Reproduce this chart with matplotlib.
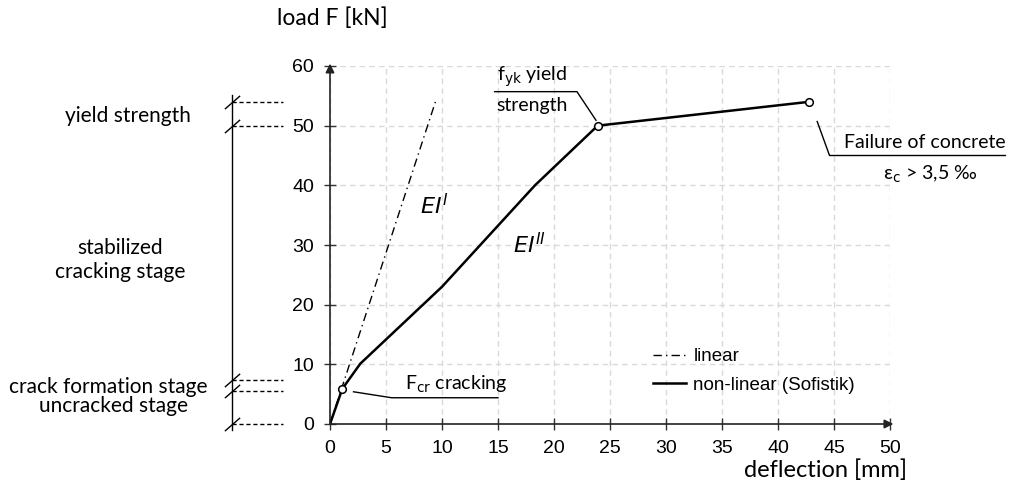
import matplotlib
matplotlib.use("Agg")
import matplotlib.pyplot as plt
from matplotlib.path import Path

# ---------------- data ----------------
nonlin_x = [0, 1.1, 2.7, 10.0, 18.3, 23.9, 42.8]
nonlin_y = [0, 5.9, 10.1, 23.0, 40.0, 50.0, 54.0]
marker_x = [1.1, 23.9, 42.8]
marker_y = [5.9, 50.0, 54.0]
lin_x = [0, 9.5]
lin_y = [0, 54.5]
xticks = [0, 5, 10, 15, 20, 25, 30, 35, 40, 45, 50]
yticks = [0, 10, 20, 30, 40, 50, 60]
stage_levels = [54, 50, 7.3, 5.5, 0]
stage_labels = ["yield strength", "stabilized\ncracking stage",
                "crack formation stage", "uncracked stage"]
stage_label_y = [51.6, 27.5, 6.2, 3.0]

CAL = "Lato"
ARI = "Liberation Sans"

fig = plt.figure(figsize=(10.18, 5.03), dpi=100)
ax = fig.add_axes([330/1018, 1-424/503, 560/1018, (424-66)/503])
ax.set_xlim(0, 50)
ax.set_ylim(0, 60)

# grid
for s in ax.spines.values():
    s.set_visible(False)
ax.set_xticks(xticks)
ax.set_yticks(yticks)
ax.grid(True, color="#d9d9d9", linestyle=(0, (4, 3)), linewidth=1)
ax.tick_params(direction="inout", length=9, width=1, color="#333333",
               labelsize=14, pad=7)
for lab in ax.get_xticklabels() + ax.get_yticklabels():
    lab.set_fontfamily(ARI)

# axes with arrows
ax.annotate("", xy=(50.3, 0), xytext=(0, 0),
            arrowprops=dict(arrowstyle="-|>", color="#222222", lw=1.2,
                            mutation_scale=13, shrinkA=0, shrinkB=0),
            annotation_clip=False)
ax.annotate("", xy=(0, 60.4), xytext=(0, 0),
            arrowprops=dict(arrowstyle="-|>", color="#222222", lw=1.2,
                            mutation_scale=13, shrinkA=0, shrinkB=0),
            annotation_clip=False)

# curves
ax.plot(lin_x, lin_y, color="black", lw=1.0, linestyle=(0, (6, 3, 1, 3)),
        label="linear")
ax.plot(nonlin_x, nonlin_y, color="black", lw=1.8, label="non-linear (Sofistik)",
        solid_joinstyle="miter")
ax.plot(marker_x, marker_y, linestyle="none", marker="o", ms=5.5,
        mfc="white", mec="black", mew=1.1, zorder=5)

leg = ax.legend(loc="upper left", bbox_to_anchor=(0.577, 0.212), frameon=False,
                borderpad=0, borderaxespad=0, handlelength=1.75,
                handletextpad=0.4, labelspacing=0.62,
                prop={"family": ARI, "size": 13.5})

# EI labels
ax.text(8.0, 36.6, r"$EI^{I}$", fontsize=16, fontfamily=CAL, va="center",
        ha="left", math_fontfamily="dejavusans")
ax.text(16.3, 30.0, r"$EI^{II}$", fontsize=16, fontfamily=CAL, va="center",
        ha="left", math_fontfamily="dejavusans")

# annotations
ax.plot([2.1, 5.5, 15.0], [5.4, 4.4, 4.4], color="black", lw=1)
ax.text(6.7, 6.6, r"F$_{\mathrm{cr}}$ cracking", fontsize=14, fontfamily=CAL,
        va="center", ha="left")

ax.plot([14.7, 22.05, 23.75], [55.7, 55.7, 50.9], color="black", lw=1)
ax.text(14.9, 58.2, r"f$_{\mathrm{yk}}$ yield", fontsize=14, fontfamily=CAL,
        va="center", ha="left")
ax.text(14.9, 53.4, "strength", fontsize=14, fontfamily=CAL,
        va="center", ha="left")

ax.plot([43.5, 44.6, 60.3], [50.7, 45.0, 45.0], color="black", lw=1,
        clip_on=False)
ax.text(60.3, 47.1, "Failure of concrete", fontsize=14, fontfamily=CAL,
        va="center", ha="right")
ax.text(53.6, 41.9, "ε$_{\\mathrm{c}}$ > 3,5 ‰", fontsize=14,
        fontfamily=[CAL, "DejaVu Sans"], va="center", ha="center")

# axis titles
ax.text(-0.095, 1.134, "load F [kN]", transform=ax.transAxes, fontsize=16.5,
        fontfamily=CAL, va="center", ha="left")
ax.text(1.03, -0.128, "deflection [mm]", transform=ax.transAxes, fontsize=17,
        fontfamily=CAL, va="center", ha="right")

# left stage bracket
tr = ax.get_yaxis_transform()
xv = (232 - 330) / 560
xd = (283 - 330) / 560
ax.plot([xv, xv], [55.2, -1.0], color="black", lw=1, transform=tr, clip_on=False)
slash = Path([(-1, -0.87), (1, 0.87)], [Path.MOVETO, Path.LINETO])
for lv in stage_levels:
    ax.plot([xv, xd], [lv, lv], color="black", lw=1, linestyle=(0, (3, 2)),
            transform=tr, clip_on=False)
    ax.plot([xv], [lv], marker=slash, ms=11, mec="black", mew=1,
            transform=tr, clip_on=False)
stage_x = [-0.361, -0.375, -0.396, -0.386]
for lbl, sx, sy in zip(stage_labels, stage_x, stage_label_y):
    ax.text(sx, sy, lbl, transform=tr, fontsize=15, fontfamily=CAL,
            va="center", ha="center", linespacing=1.2)

fig.savefig("out.png", dpi=100)
